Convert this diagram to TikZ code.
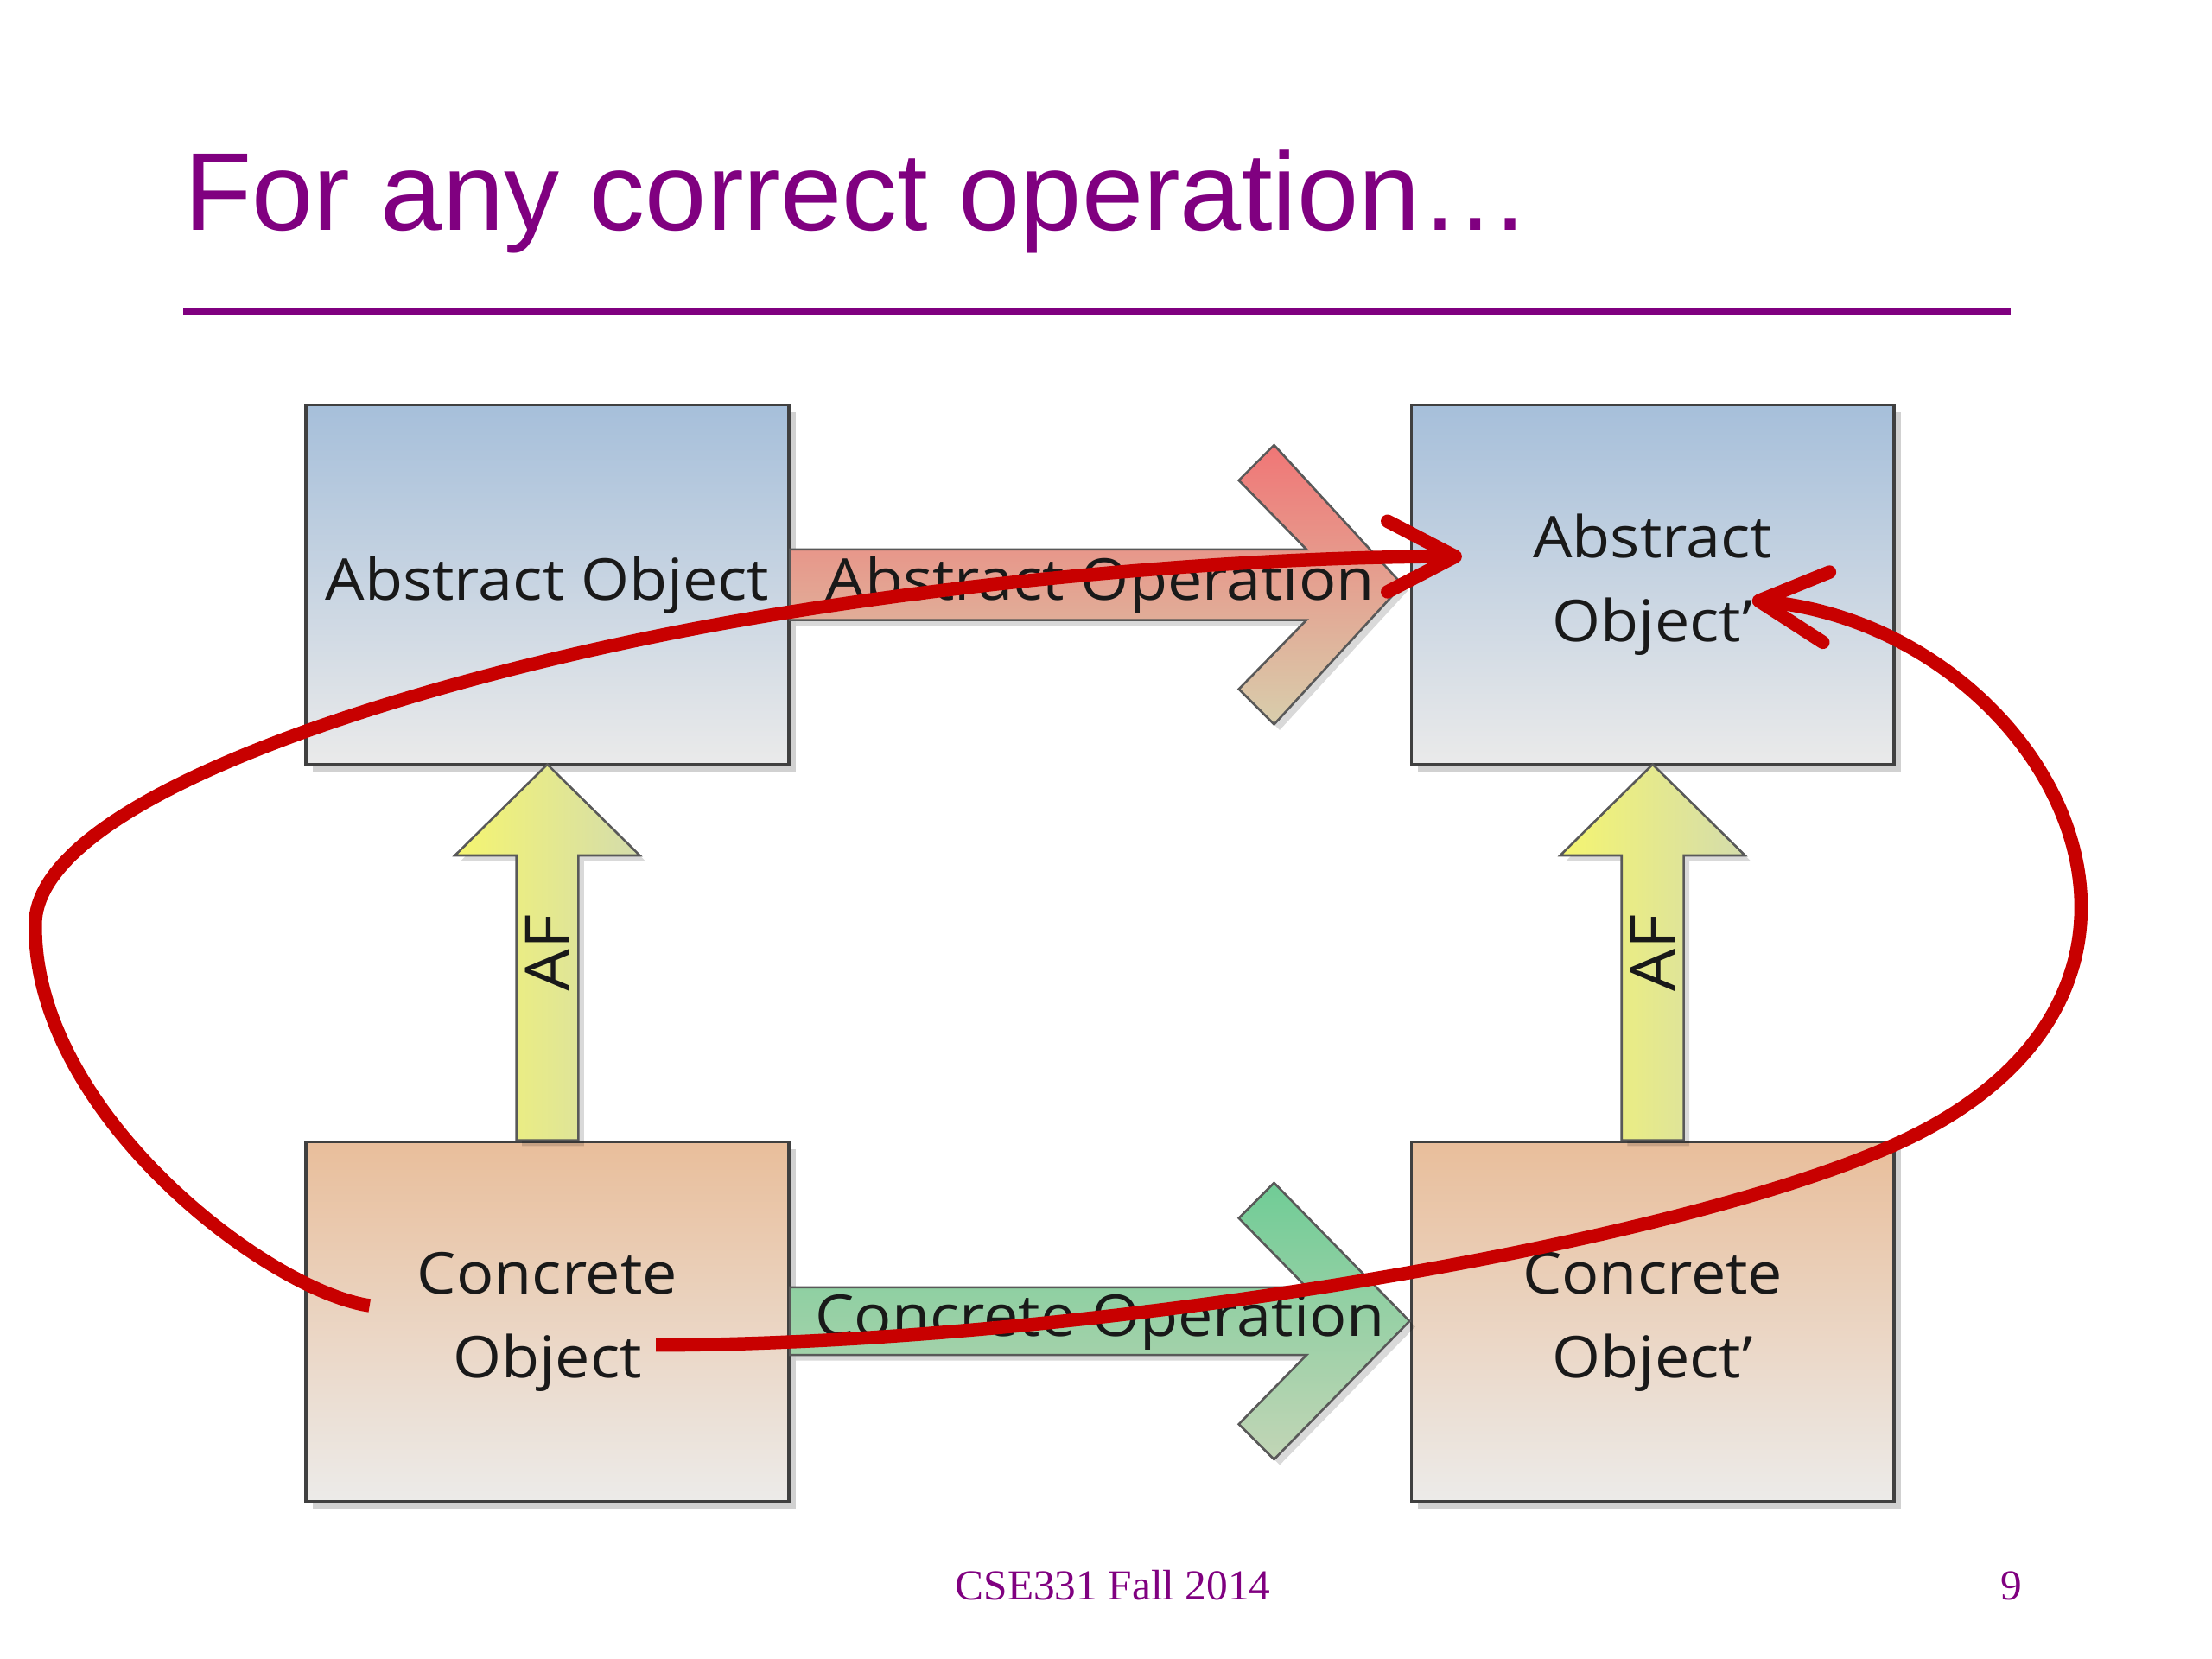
\documentclass[tikz,border=0pt]{standalone}
\usepackage{fontspec}
\usetikzlibrary{calc,arrows.meta,shadows}

\newfontfamily\titlefont{Liberation Sans}
\newfontfamily\footfont{Liberation Serif}
\newfontfamily\boxfont[FakeStretch=1.08]{Open Sans}

\definecolor{slidepurple}{RGB}{128,0,128}
\definecolor{pen}{RGB}{200,0,0}
\definecolor{absTop}{RGB}{166,191,218}
\definecolor{absBot}{RGB}{234,234,234}
\definecolor{conTop}{RGB}{233,190,155}
\definecolor{conBot}{RGB}{236,235,233}
\definecolor{opRedTop}{RGB}{240,118,118}
\definecolor{opRedBot}{RGB}{216,206,172}
\definecolor{opGreenTop}{RGB}{112,204,150}
\definecolor{opGreenBot}{RGB}{194,213,182}
\definecolor{afLeft}{RGB}{245,245,112}
\definecolor{afRight}{RGB}{212,220,172}

\tikzset{
  objbox/.style={draw=black!75, line width=0.6pt, minimum width=3.42cm, minimum height=2.55cm,
    inner sep=0pt, align=center, text=black!90,
    font=\boxfont\fontsize{11.6}{16.8}\selectfont,
    drop shadow={shadow xshift=0.05cm, shadow yshift=-0.05cm, opacity=0.18, fill=black}},
  absbox/.style={objbox, top color=absTop, bottom color=absBot},
  conbox/.style={objbox, top color=conTop, bottom color=conBot},
  blockarrow/.style={draw=black!65, line width=0.45pt,
    drop shadow={shadow xshift=0.04cm, shadow yshift=-0.04cm, opacity=0.15, fill=black}},
  oplabel/.style={inner sep=0pt, text=black!90, font=\boxfont\fontsize{11.6}{14}\selectfont},
  redpen/.style={draw=pen, line width=2.7pt, -{Straight Barb[length=0.48cm,width=0.5cm,round]}}
}

\begin{document}
\begin{tikzpicture}[x=0.01cm, y=-0.01cm]
    \fill[white] (0,0) rectangle (1568,1176);
    \useasboundingbox (0,0) rectangle (1568,1176);

    % Title and rule
    \node[anchor=base west, inner sep=0pt, text=slidepurple,
          font=\titlefont\fontsize{22.3}{26}\selectfont] (title) at (130,163) {For any correct operation…};
    \draw[slidepurple, line width=1.4pt] (130,221) -- (1425,221);

    % Objects
    \node[absbox] (ao)  at (388,414.5)    {Abstract Object};
    \node[absbox] (ao2) at (1171.5,414.5) {Abstract\\Object’};
    \node[conbox] (co)  at (388,937)      {Concrete\\Object};
    \node[conbox] (co2) at (1171.5,937)   {Concrete\\Object’};

    % Operations
    \draw[blockarrow, top color=opRedTop, bottom color=opRedBot]
        ($(ao.east)+(0,-25)$) -- ++(366,0) -- ++(-48,-49) -- ++(25,-25) -- ++(91,99)
        -- ++(-91,99) -- ++(-25,-25) -- ++(48,-49) -- ++(-366,0) -- cycle;
    \draw[blockarrow, top color=opGreenTop, bottom color=opGreenBot]
        ($(co.east)+(0,-24.5)$) -- ++(366,0) -- ++(-48,-49) -- ++(25,-25) -- ++(96,98)
        -- ++(-96,98) -- ++(-25,-25) -- ++(48,-49) -- ++(-366,0) -- cycle;
    \node[oplabel] (aop) at ($(ao.east)!0.5!(ao2.west)$) {Abstract Operation};
    \node[oplabel] (cop) at ($(co.east)!0.5!(co2.west)$) {Concrete Operation};

    % Abstraction function
    \draw[blockarrow, left color=afLeft, right color=afRight]
        ($(co.north)+(-22,0)$) -- ++(0,-202) -- ++(-43.5,0) -- ++(65.5,-64.5)
        -- ++(65.5,64.5) -- ++(-43.5,0) -- ++(0,202) -- cycle;
    \draw[blockarrow, left color=afLeft, right color=afRight]
        ($(co2.north)+(-22,0)$) -- ++(0,-202) -- ++(-43.5,0) -- ++(65.5,-64.5)
        -- ++(65.5,64.5) -- ++(-43.5,0) -- ++(0,202) -- cycle;
    \node[oplabel, rotate=90, font=\boxfont\fontsize{12.5}{14}\selectfont] (af)  at ($(co.north)!0.5!(ao.south)$)   {AF};
    \node[oplabel, rotate=90, font=\boxfont\fontsize{12.5}{14}\selectfont] (af2) at ($(co2.north)!0.5!(ao2.south)$) {AF};

    % Hand drawn loops
    \coordinate (s1) at ($(co.center)+(-126,-11.5)$);
    \coordinate (e1) at ($(ao2.west)+(37,-20)$);
    \coordinate (s2) at ($(co.center)+(77,16.5)$);
    \coordinate (e2) at ($(ao2.center)+(70.5,11)$);
    \draw[redpen] (s1) .. controls (190,915) and (25,790) .. (25,657)
        .. controls (22,560) and (330,470) .. (561,433.7)
        .. controls (720,408) and (900,394.5) .. (e1);
    \draw[redpen] (s2) .. controls (760,953) and (1180,885) .. (1344,811)
        .. controls (1590,700) and (1450,445) .. (e2);

    % Footer
    \node[anchor=base, inner sep=0pt, text=slidepurple, font=\footfont\fontsize{8.6}{10}\selectfont] (foot) at (789,1134) {CSE331 Fall 2014};
    \node[anchor=base, inner sep=0pt, text=slidepurple, font=\footfont\fontsize{8.6}{10}\selectfont] (page) at (1426,1134) {9};
\end{tikzpicture}
\end{document}
